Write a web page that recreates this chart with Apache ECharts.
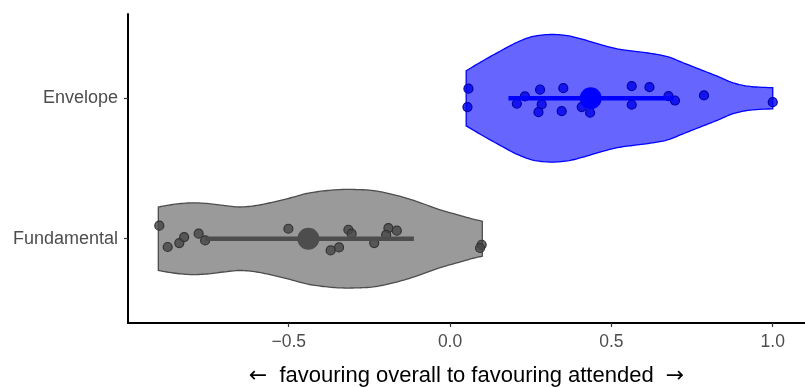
<!DOCTYPE html>
<html>
<head>
<meta charset="utf-8">
<script src="https://cdn.jsdelivr.net/npm/echarts@6/dist/echarts.min.js"></script>
<style>html,body{margin:0;padding:0;background:#fff}#c{width:805px;height:387px}</style>
</head>
<body>
<div id="c"></div>
<script>
var categories = ['Fundamental', 'Envelope'];
var xTicks = [-0.5, 0, 0.5, 1.0];

// violin outlines: x positions and half-widths (y units)
var envViolinX = [0.05, 0.102, 0.155, 0.208, 0.257, 0.310, 0.363, 0.412, 0.465, 0.518, 0.567, 0.620, 0.673, 0.722, 0.775, 0.828, 0.877, 0.930, 1.0];
var envViolinW = [0.196, 0.267, 0.335, 0.399, 0.440, 0.454, 0.446, 0.419, 0.383, 0.352, 0.336, 0.320, 0.297, 0.253, 0.205, 0.157, 0.110, 0.084, 0.075];
var funViolinX = [-0.904, -0.858, -0.806, -0.754, -0.703, -0.651, -0.599, -0.548, -0.496, -0.444, -0.393, -0.341, -0.289, -0.238, -0.186, -0.134, -0.083, -0.031, 0.021, 0.072, 0.10];
var funViolinW = [0.226, 0.244, 0.255, 0.251, 0.237, 0.226, 0.237, 0.261, 0.290, 0.322, 0.340, 0.350, 0.350, 0.343, 0.320, 0.288, 0.249, 0.206, 0.172, 0.139, 0.125];

// jittered points
var envPointsX = [0.057, 0.054, 0.279, 0.351, 0.232, 0.207, 0.284, 0.274, 0.346, 0.408, 0.434, 0.563, 0.618, 0.677, 0.697, 0.563, 0.787, 1.0];
var envPointsY = [2.068, 1.937, 2.061, 2.072, 2.013, 1.961, 1.956, 1.901, 1.908, 1.937, 1.897, 2.086, 2.079, 2.015, 1.984, 1.954, 2.020, 1.972];
var funPointsX = [-0.901, -0.875, -0.839, -0.824, -0.779, -0.759, -0.501, -0.370, -0.344, -0.315, -0.305, -0.235, -0.191, -0.165, -0.198, 0.098, 0.093];
var funPointsY = [1.093, 0.941, 0.969, 1.012, 1.036, 0.988, 1.071, 0.917, 0.938, 1.064, 1.036, 0.969, 1.076, 1.057, 1.028, 0.957, 0.934];

// mean and interval
var envMean = 0.436, envLow = 0.181, envHigh = 0.692;
var funMean = -0.439, funLow = -0.759, funHigh = -0.112;

function zip(a, b) { return a.map(function (v, i) { return [v, b[i]]; }); }

// Catmull-Rom smoothing of a pixel polyline (drawing only)
function smoothLine(p) {
  var out = [];
  var n = p.length;
  for (var i = 0; i < n - 1; i++) {
    var p0 = p[Math.max(i - 1, 0)], p1 = p[i], p2 = p[i + 1], p3 = p[Math.min(i + 2, n - 1)];
    var steps = 8;
    for (var s = 0; s < steps; s++) {
      var t = s / steps, t2 = t * t, t3 = t2 * t;
      var pt = [0, 1].map(function (k) {
        return 0.5 * ((2 * p1[k]) + (-p0[k] + p2[k]) * t + (2 * p0[k] - 5 * p1[k] + 4 * p2[k] - p3[k]) * t2 + (-p0[k] + 3 * p1[k] - 3 * p2[k] + p3[k]) * t3);
      });
      out.push(pt);
    }
  }
  out.push(p[n - 1]);
  return out;
}

function violinSeries(xs, ws, center, fill, stroke) {
  return {
    type: 'custom',
    silent: true,
    z: 1,
    data: [[0]],
    renderItem: function (params, api) {
      var top = [], bot = [];
      for (var i = 0; i < xs.length; i++) {
        top.push(api.coord([xs[i], center + ws[i]]));
        bot.push(api.coord([xs[i], center - ws[i]]));
      }
      var pts = smoothLine(top).concat(smoothLine(bot).reverse());
      return {
        type: 'polygon',
        shape: { points: pts },
        style: { fill: fill, stroke: stroke, lineWidth: 1.3 }
      };
    }
  };
}

function lineSeries(lo, hi, center, color) {
  return {
    type: 'line',
    data: [[lo, center], [hi, center]],
    symbol: 'none',
    silent: true,
    z: 3,
    lineStyle: { color: color, width: 4.5, opacity: 1 }
  };
}

var font = 'Liberation Sans, Arial, sans-serif';
var chart = echarts.init(document.getElementById('c'));
chart.setOption({
  animation: false,
  grid: { left: 128, right: 0, top: 14, bottom: 64, outerBoundsMode: 'none', containLabel: false },
  xAxis: {
    type: 'value',
    min: -0.998,
    max: 1.1,
    splitLine: { show: false },
    axisLine: { show: true, onZero: false, lineStyle: { color: '#000', width: 2 } },
    axisTick: { show: true, length: 4, lineStyle: { color: '#333', width: 1.2 }, customValues: xTicks },
    axisLabel: {
      customValues: xTicks, color: '#4d4d4d', fontSize: 17.5, margin: 10,
      fontFamily: font,
      formatter: function (v) { return v.toFixed(1).replace('-', '\u2212'); }
    },
    name: '{a|\u2190}  favouring overall to favouring attended  {a|\u2192}',
    nameLocation: 'middle',
    nameGap: 41,
    nameTextStyle: {
      color: '#000', fontSize: 22, fontFamily: font, lineHeight: 24,
      rich: { a: { fontSize: 22, fontFamily: 'DejaVu Sans', color: '#000', lineHeight: 24 } }
    }
  },
  yAxis: {
    type: 'value',
    min: 0.4,
    max: 2.6,
    splitLine: { show: false },
    axisLine: { show: true, onZero: false, lineStyle: { color: '#000', width: 2 } },
    axisTick: { show: true, length: 4, lineStyle: { color: '#333', width: 1.2 }, customValues: [1, 2] },
    axisLabel: {
      customValues: [1, 2], color: '#4d4d4d', fontSize: 18, margin: 10,
      fontFamily: font,
      formatter: function (v) { return categories[Math.round(v) - 1]; }
    }
  },
  series: [
    violinSeries(envViolinX, envViolinW, 2, 'rgba(0,0,255,0.6)', '#0000ff'),
    violinSeries(funViolinX, funViolinW, 1, 'rgba(77,77,77,0.57)', '#4d4d4d'),
    {
      type: 'scatter', data: zip(envPointsX, envPointsY), symbolSize: 9, z: 2, silent: true,
      itemStyle: { color: 'rgba(0,0,235,0.8)', borderColor: '#0000aa', borderWidth: 1.2, opacity: 1 }
    },
    {
      type: 'scatter', data: zip(funPointsX, funPointsY), symbolSize: 9, z: 2, silent: true,
      itemStyle: { color: 'rgba(70,70,70,0.8)', borderColor: '#333333', borderWidth: 1.2, opacity: 1 }
    },
    lineSeries(envLow, envHigh, 2, '#0000ff'),
    lineSeries(funLow, funHigh, 1, '#4d4d4d'),
    {
      type: 'scatter', data: [[envMean, 2]], symbolSize: 22, z: 4, silent: true,
      itemStyle: { color: '#0000ff', opacity: 1 }
    },
    {
      type: 'scatter', data: [[funMean, 1]], symbolSize: 22, z: 4, silent: true,
      itemStyle: { color: '#4d4d4d', opacity: 1 }
    }
  ]
});
</script>
</body>
</html>
